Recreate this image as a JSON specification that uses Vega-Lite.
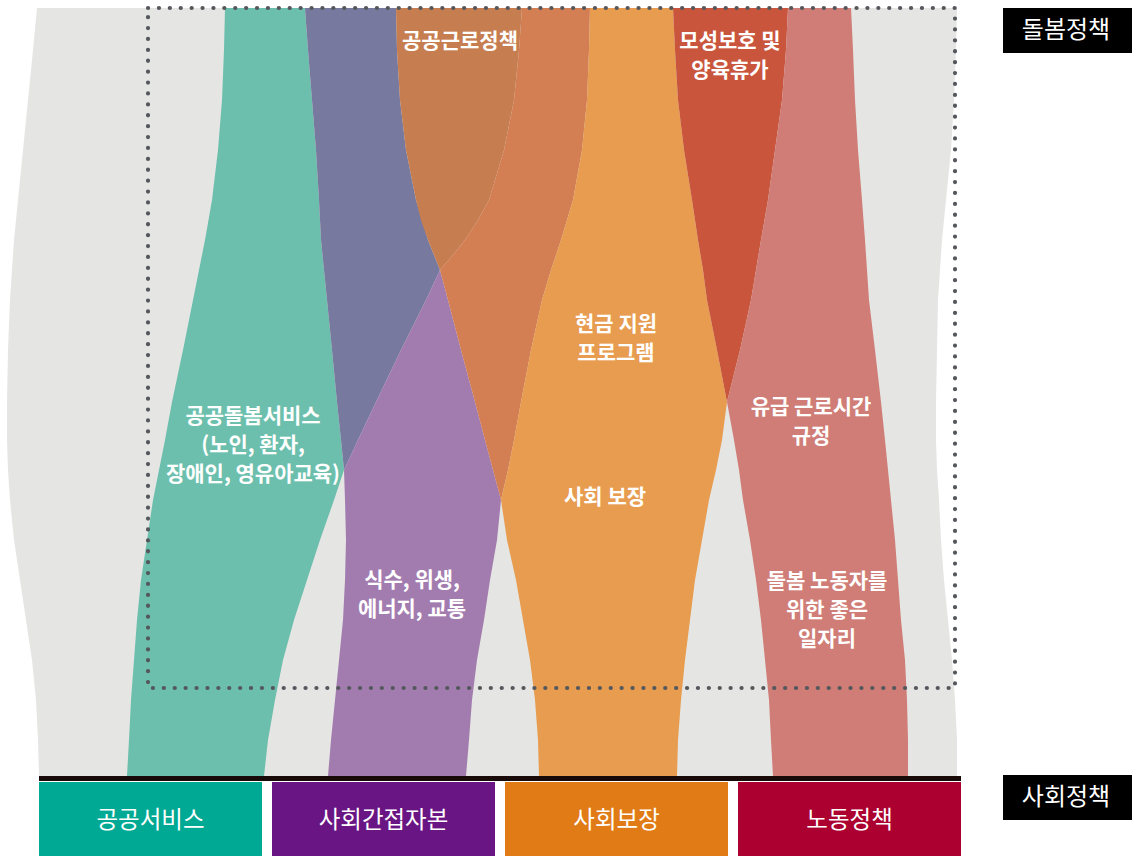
{
  "$schema": "https://vega.github.io/schema/vega-lite/v6.json",
  "width": 1132,
  "height": 856,
  "padding": 0,
  "autosize": {"type": "fit", "contains": "padding"},
  "background": "white",
  "config": {"view": {"stroke": null}},
  "resolve": {"scale": {"color": "independent"}},
  "datasets": {
    "bg": [
      {"y": 8, "l": 37, "r": 957}, {"y": 50, "l": 33, "r": 956}, {"y": 100, "l": 28, "r": 954},
      {"y": 150, "l": 23, "r": 951}, {"y": 200, "l": 18, "r": 946}, {"y": 240, "l": 14, "r": 942},
      {"y": 270, "l": 12, "r": 940}, {"y": 300, "l": 10, "r": 938}, {"y": 350, "l": 8, "r": 937},
      {"y": 402, "l": 7, "r": 936}, {"y": 440, "l": 7, "r": 936}, {"y": 470, "l": 8, "r": 937},
      {"y": 500, "l": 10, "r": 939}, {"y": 540, "l": 14, "r": 941}, {"y": 580, "l": 20, "r": 944},
      {"y": 620, "l": 26, "r": 948}, {"y": 660, "l": 32, "r": 952}, {"y": 700, "l": 36, "r": 955},
      {"y": 740, "l": 38, "r": 957}, {"y": 776, "l": 39, "r": 957}
    ],
    "ribbons": [
      {"ribbon": "teal", "y": 8, "l": 225, "r": 305}, {"ribbon": "teal", "y": 50, "l": 224, "r": 308},
      {"ribbon": "teal", "y": 100, "l": 222, "r": 312}, {"ribbon": "teal", "y": 150, "l": 218, "r": 316},
      {"ribbon": "teal", "y": 200, "l": 212, "r": 319}, {"ribbon": "teal", "y": 240, "l": 205, "r": 321},
      {"ribbon": "teal", "y": 270, "l": 199, "r": 324}, {"ribbon": "teal", "y": 300, "l": 193, "r": 327},
      {"ribbon": "teal", "y": 350, "l": 183, "r": 332}, {"ribbon": "teal", "y": 402, "l": 172, "r": 337},
      {"ribbon": "teal", "y": 440, "l": 165, "r": 341}, {"ribbon": "teal", "y": 470, "l": 159, "r": 344},
      {"ribbon": "teal", "y": 500, "l": 153, "r": 334}, {"ribbon": "teal", "y": 540, "l": 147, "r": 320},
      {"ribbon": "teal", "y": 580, "l": 141, "r": 307}, {"ribbon": "teal", "y": 620, "l": 137, "r": 294},
      {"ribbon": "teal", "y": 660, "l": 134, "r": 283}, {"ribbon": "teal", "y": 700, "l": 131, "r": 275},
      {"ribbon": "teal", "y": 740, "l": 129, "r": 268}, {"ribbon": "teal", "y": 776, "l": 127, "r": 264},

      {"ribbon": "bp", "y": 8, "l": 305, "r": 396}, {"ribbon": "bp", "y": 50, "l": 308, "r": 397},
      {"ribbon": "bp", "y": 100, "l": 312, "r": 400}, {"ribbon": "bp", "y": 150, "l": 316, "r": 406},
      {"ribbon": "bp", "y": 200, "l": 319, "r": 416}, {"ribbon": "bp", "y": 240, "l": 321, "r": 428},
      {"ribbon": "bp", "y": 270, "l": 324, "r": 440}, {"ribbon": "bp", "y": 300, "l": 327, "r": 426},
      {"ribbon": "bp", "y": 350, "l": 332, "r": 401}, {"ribbon": "bp", "y": 402, "l": 337, "r": 376},
      {"ribbon": "bp", "y": 440, "l": 341, "r": 358}, {"ribbon": "bp", "y": 470, "l": 344, "r": 344},

      {"ribbon": "brown", "y": 8, "l": 396, "r": 522}, {"ribbon": "brown", "y": 50, "l": 397, "r": 519},
      {"ribbon": "brown", "y": 100, "l": 400, "r": 514}, {"ribbon": "brown", "y": 150, "l": 406, "r": 504},
      {"ribbon": "brown", "y": 200, "l": 416, "r": 489}, {"ribbon": "brown", "y": 220, "l": 421, "r": 478},
      {"ribbon": "brown", "y": 240, "l": 428, "r": 465}, {"ribbon": "brown", "y": 255, "l": 434, "r": 453},
      {"ribbon": "brown", "y": 270, "l": 440, "r": 440},

      {"ribbon": "lp", "y": 270, "l": 440, "r": 440}, {"ribbon": "lp", "y": 300, "l": 426, "r": 448},
      {"ribbon": "lp", "y": 350, "l": 401, "r": 461}, {"ribbon": "lp", "y": 402, "l": 376, "r": 475},
      {"ribbon": "lp", "y": 440, "l": 358, "r": 485}, {"ribbon": "lp", "y": 470, "l": 344, "r": 493},
      {"ribbon": "lp", "y": 500, "l": 345, "r": 501}, {"ribbon": "lp", "y": 540, "l": 346, "r": 497},
      {"ribbon": "lp", "y": 580, "l": 345, "r": 490}, {"ribbon": "lp", "y": 620, "l": 343, "r": 484},
      {"ribbon": "lp", "y": 660, "l": 339, "r": 477}, {"ribbon": "lp", "y": 700, "l": 335, "r": 472},
      {"ribbon": "lp", "y": 740, "l": 331, "r": 469}, {"ribbon": "lp", "y": 776, "l": 328, "r": 466},

      {"ribbon": "orred", "y": 8, "l": 522, "r": 590}, {"ribbon": "orred", "y": 50, "l": 519, "r": 589},
      {"ribbon": "orred", "y": 100, "l": 514, "r": 587}, {"ribbon": "orred", "y": 150, "l": 504, "r": 582},
      {"ribbon": "orred", "y": 200, "l": 489, "r": 573}, {"ribbon": "orred", "y": 220, "l": 478, "r": 567},
      {"ribbon": "orred", "y": 240, "l": 465, "r": 561}, {"ribbon": "orred", "y": 255, "l": 453, "r": 556},
      {"ribbon": "orred", "y": 270, "l": 440, "r": 551}, {"ribbon": "orred", "y": 300, "l": 448, "r": 542},
      {"ribbon": "orred", "y": 350, "l": 461, "r": 531}, {"ribbon": "orred", "y": 402, "l": 475, "r": 521},
      {"ribbon": "orred", "y": 440, "l": 485, "r": 514}, {"ribbon": "orred", "y": 470, "l": 493, "r": 508},
      {"ribbon": "orred", "y": 500, "l": 501, "r": 501},

      {"ribbon": "orange", "y": 8, "l": 590, "r": 673}, {"ribbon": "orange", "y": 50, "l": 589, "r": 675},
      {"ribbon": "orange", "y": 100, "l": 587, "r": 678}, {"ribbon": "orange", "y": 150, "l": 582, "r": 684},
      {"ribbon": "orange", "y": 200, "l": 573, "r": 692}, {"ribbon": "orange", "y": 240, "l": 561, "r": 698},
      {"ribbon": "orange", "y": 270, "l": 551, "r": 703}, {"ribbon": "orange", "y": 300, "l": 542, "r": 707},
      {"ribbon": "orange", "y": 350, "l": 531, "r": 717}, {"ribbon": "orange", "y": 402, "l": 521, "r": 727},
      {"ribbon": "orange", "y": 440, "l": 514, "r": 722}, {"ribbon": "orange", "y": 470, "l": 508, "r": 716},
      {"ribbon": "orange", "y": 500, "l": 501, "r": 709}, {"ribbon": "orange", "y": 540, "l": 507, "r": 702},
      {"ribbon": "orange", "y": 580, "l": 516, "r": 695}, {"ribbon": "orange", "y": 620, "l": 523, "r": 690},
      {"ribbon": "orange", "y": 660, "l": 530, "r": 685}, {"ribbon": "orange", "y": 700, "l": 535, "r": 681},
      {"ribbon": "orange", "y": 740, "l": 538, "r": 678}, {"ribbon": "orange", "y": 776, "l": 539, "r": 677},

      {"ribbon": "red", "y": 8, "l": 673, "r": 788}, {"ribbon": "red", "y": 50, "l": 675, "r": 786},
      {"ribbon": "red", "y": 100, "l": 678, "r": 782}, {"ribbon": "red", "y": 150, "l": 684, "r": 775},
      {"ribbon": "red", "y": 200, "l": 692, "r": 768}, {"ribbon": "red", "y": 240, "l": 698, "r": 761},
      {"ribbon": "red", "y": 270, "l": 703, "r": 756}, {"ribbon": "red", "y": 300, "l": 707, "r": 751},
      {"ribbon": "red", "y": 350, "l": 717, "r": 740}, {"ribbon": "red", "y": 402, "l": 727, "r": 727},

      {"ribbon": "pink", "y": 8, "l": 788, "r": 851}, {"ribbon": "pink", "y": 50, "l": 786, "r": 853},
      {"ribbon": "pink", "y": 100, "l": 782, "r": 855}, {"ribbon": "pink", "y": 150, "l": 775, "r": 858},
      {"ribbon": "pink", "y": 200, "l": 768, "r": 862}, {"ribbon": "pink", "y": 240, "l": 761, "r": 865},
      {"ribbon": "pink", "y": 270, "l": 756, "r": 867}, {"ribbon": "pink", "y": 300, "l": 751, "r": 869},
      {"ribbon": "pink", "y": 350, "l": 740, "r": 875}, {"ribbon": "pink", "y": 402, "l": 727, "r": 881},
      {"ribbon": "pink", "y": 440, "l": 734, "r": 885}, {"ribbon": "pink", "y": 470, "l": 739, "r": 888},
      {"ribbon": "pink", "y": 500, "l": 743, "r": 891}, {"ribbon": "pink", "y": 540, "l": 750, "r": 895},
      {"ribbon": "pink", "y": 580, "l": 756, "r": 898}, {"ribbon": "pink", "y": 620, "l": 761, "r": 901},
      {"ribbon": "pink", "y": 660, "l": 765, "r": 905}, {"ribbon": "pink", "y": 700, "l": 769, "r": 907},
      {"ribbon": "pink", "y": 740, "l": 771, "r": 908}, {"ribbon": "pink", "y": 776, "l": 773, "r": 908}
    ],
    "frame": [{"x1": 148, "x2": 955, "y1": 8, "y2": 688}],
    "baseline": [{"x1": 39, "x2": 961, "y": 778.5}],
    "labels": [
      {"label": "공공근로정책", "x": 460, "y": 42},
      {"label": "모성보호 및\n양육휴가", "x": 730, "y": 42},
      {"label": "현금 지원\n프로그램", "x": 616, "y": 325},
      {"label": "공공돌봄서비스\n(노인, 환자,\n장애인, 영유아교육)", "x": 253, "y": 417},
      {"label": "사회 보장", "x": 605, "y": 498},
      {"label": "유급 근로시간\n규정", "x": 811, "y": 408},
      {"label": "식수, 위생,\n에너지, 교통", "x": 412, "y": 581},
      {"label": "돌봄 노동자를\n위한 좋은\n일자리", "x": 827, "y": 582}
    ],
    "boxes": [
      {"name": "공공서비스", "x1": 39, "x2": 262, "y1": 782, "y2": 856},
      {"name": "사회간접자본", "x1": 272, "x2": 495, "y1": 782, "y2": 856},
      {"name": "사회보장", "x1": 505, "x2": 728, "y1": 782, "y2": 856},
      {"name": "노동정책", "x1": 738, "x2": 961, "y1": 782, "y2": 856}
    ],
    "tags": [
      {"name": "돌봄정책", "x1": 1003, "x2": 1132, "y1": 8, "y2": 53},
      {"name": "사회정책", "x1": 1003, "x2": 1132, "y1": 775, "y2": 820}
    ]
  },
  "layer": [
    {
      "data": {"name": "bg"},
      "mark": {"type": "area", "orient": "horizontal", "interpolate": "linear", "color": "#e5e5e3", "opacity": 1},
      "encoding": {
        "y": {"field": "y", "type": "quantitative", "scale": {"domain": [0, 856], "reverse": true, "nice": false, "zero": false}, "axis": null},
        "x": {"field": "l", "type": "quantitative", "stack": null, "scale": {"domain": [0, 1132], "nice": false, "zero": false}, "axis": null},
        "x2": {"field": "r"}
      }
    },
    {
      "data": {"name": "ribbons"},
      "mark": {"type": "area", "orient": "horizontal", "interpolate": "linear", "opacity": 1},
      "encoding": {
        "y": {"field": "y", "type": "quantitative"},
        "x": {"field": "l", "type": "quantitative", "stack": null},
        "x2": {"field": "r"},
        "color": {
          "field": "ribbon", "type": "nominal", "legend": null,
          "scale": {
            "domain": ["teal", "bp", "brown", "lp", "orred", "orange", "red", "pink"],
            "range": ["#6cbfad", "#78799f", "#c67d4f", "#a37caf", "#d47f53", "#e79c4f", "#c9553c", "#cf7d76"]
          }
        }
      }
    },
    {
      "data": {"name": "frame"},
      "mark": {"type": "rect", "fillOpacity": 0, "stroke": "#54585d", "strokeWidth": 4.2, "strokeDash": [0.1, 10.8], "strokeCap": "round"},
      "encoding": {
        "x": {"field": "x1", "type": "quantitative"},
        "x2": {"field": "x2"},
        "y": {"field": "y1", "type": "quantitative"},
        "y2": {"field": "y2"}
      }
    },
    {
      "data": {"name": "labels"},
      "mark": {"type": "text", "font": "Noto Sans CJK KR", "fontSize": 21, "fontWeight": "bold", "color": "white", "align": "center", "baseline": "middle", "lineBreak": "\n", "lineHeight": 29},
      "encoding": {
        "x": {"field": "x", "type": "quantitative"},
        "y": {"field": "y", "type": "quantitative"},
        "text": {"field": "label", "type": "nominal"}
      }
    },
    {
      "data": {"name": "baseline"},
      "mark": {"type": "rule", "color": "#170a08", "strokeWidth": 5},
      "encoding": {
        "x": {"field": "x1", "type": "quantitative"},
        "x2": {"field": "x2"},
        "y": {"field": "y", "type": "quantitative"}
      }
    },
    {
      "data": {"name": "boxes"},
      "mark": {"type": "rect", "opacity": 1},
      "encoding": {
        "x": {"field": "x1", "type": "quantitative"},
        "x2": {"field": "x2"},
        "y": {"field": "y1", "type": "quantitative"},
        "y2": {"field": "y2"},
        "color": {
          "field": "name", "type": "nominal", "legend": null,
          "scale": {"domain": ["공공서비스", "사회간접자본", "사회보장", "노동정책"], "range": ["#00a993", "#691584", "#e07b16", "#ab0030"]}
        }
      }
    },
    {
      "data": {"name": "boxes"},
      "transform": [{"calculate": "(datum.x1 + datum.x2) / 2", "as": "cx"}, {"calculate": "(datum.y1 + datum.y2) / 2", "as": "cy"}],
      "mark": {"type": "text", "font": "Noto Sans CJK KR", "fontSize": 23.5, "color": "white", "align": "center", "baseline": "middle", "dy": 2},
      "encoding": {
        "x": {"field": "cx", "type": "quantitative"},
        "y": {"field": "cy", "type": "quantitative"},
        "text": {"field": "name", "type": "nominal"}
      }
    },
    {
      "data": {"name": "tags"},
      "mark": {"type": "rect", "color": "#000000", "opacity": 1},
      "encoding": {
        "x": {"field": "x1", "type": "quantitative"},
        "x2": {"field": "x2"},
        "y": {"field": "y1", "type": "quantitative"},
        "y2": {"field": "y2"}
      }
    },
    {
      "data": {"name": "tags"},
      "transform": [{"calculate": "(datum.y1 + datum.y2) / 2", "as": "cy"}],
      "mark": {"type": "text", "font": "Noto Sans CJK KR", "fontSize": 24, "color": "white", "align": "center", "baseline": "middle", "dx": -1, "dy": 0},
      "encoding": {
        "x": {"datum": 1067, "type": "quantitative"},
        "y": {"field": "cy", "type": "quantitative"},
        "text": {"field": "name", "type": "nominal"}
      }
    }
  ]
}
